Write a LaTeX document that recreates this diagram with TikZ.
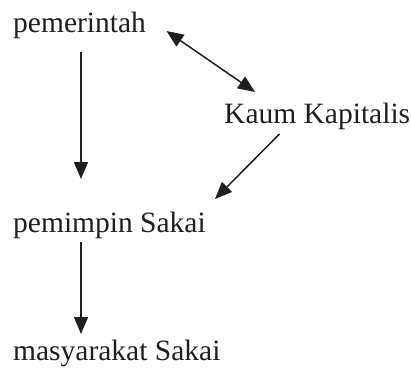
\documentclass[tikz,border=0pt]{standalone}
\usepackage{fontspec}
\setmainfont{Liberation Serif}
\usetikzlibrary{arrows.meta}
\begin{document}
\begin{tikzpicture}[x=1pt,y=1pt,
  lbl/.style={inner sep=0pt,anchor=base west,font=\fontsize{29.5}{34}\selectfont,text=black!88},
  tip/.style={Triangle[length=17pt,width=14pt]},
  arr/.style={line width=1.5pt,draw=black!88,-{Triangle[length=17pt,width=14pt]}},
  darr/.style={line width=1.5pt,draw=black!88,{Triangle[length=17pt,width=14pt]}-{Triangle[length=17pt,width=14pt]}}]
\useasboundingbox (0,0) rectangle (411,367);
\node[lbl] (pem) at (13,334) {pemerintah};
\node[lbl] (kap) at (224,243) {Kaum Kapitalis};
\node[lbl] (pim) at (13,135) {pemimpin Sakai};
\node[lbl] (mas) at (13,7) {masyarakat Sakai};
\draw[arr] ([shift={(68pt,-19pt)}]pem.base west) -- ([shift={(68pt,53pt)}]pim.base west);
\draw[arr] ([shift={(68pt,-9.7pt)}]pim.base west) -- ([shift={(68pt,26pt)}]mas.base west);
\draw[darr] ([shift={(153.5pt,2pt)}]pem.base west) -- ([shift={(31pt,32pt)}]kap.base west);
\draw[arr] ([shift={(55.5pt,-10pt)}]kap.base west) -- ([shift={(202pt,33pt)}]pim.base west);
\end{tikzpicture}
\end{document}
